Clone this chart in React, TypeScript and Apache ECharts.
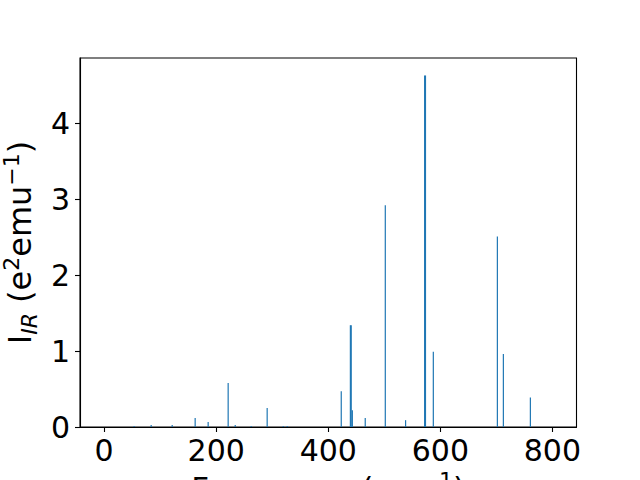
import React, { useEffect, useRef } from "react";
import * as echarts from "echarts";

const frequencies = [53.6, 84, 121.5, 162.5, 185.7, 221.4, 234, 262.5, 291, 319.7, 326.8, 423.2, 439.5, 441, 443, 466, 501.8, 538, 572, 573.5, 587.5, 701.8, 712.5, 760.7];
const intensities = [0.013, 0.026, 0.026, 0.118, 0.066, 0.58, 0.026, 0.013, 0.25, 0.013, 0.013, 0.47, 1.34, 1.34, 0.22, 0.12, 2.92, 0.09, 4.63, 4.63, 0.99, 2.51, 0.96, 0.39];
const xTicks = [0, 200, 400, 600, 800];
const yTicks = [0, 1, 2, 3, 4];

export default function App() {
  const ref = useRef<HTMLDivElement>(null);
  useEffect(() => {
    if (!ref.current) return;
    const chart = echarts.init(ref.current, null, { renderer: "svg" });
    const font = "DejaVu Sans";
    chart.setOption({
      animation: false,
      grid: { left: 80, right: 63.5, top: 58, bottom: 53, show: true, borderColor: "#000", borderWidth: 1.1, backgroundColor: "transparent", containLabel: false, outerBoundsMode: "none" },
      xAxis: {
        type: "value",
        min: -43,
        max: 843,
        splitLine: { show: false },
        axisLine: { show: true, onZero: false, lineStyle: { color: "#000", width: 1.1 } },
        axisTick: { show: true, customValues: xTicks, length: 5, lineStyle: { color: "#000", width: 1.1 } },
        axisLabel: { customValues: xTicks, color: "#000", fontFamily: font, fontSize: 30, margin: 8 },
        name: "{m|Frequency (cm}{sup|−1}{m|)}",
        nameLocation: "middle",
        nameGap: 39,
        nameTextStyle: {
          rich: {
            m: { fontFamily: font, fontSize: 31, color: "#000", lineHeight: 36, verticalAlign: "middle" },
            sup: { fontFamily: font, fontSize: 22, color: "#000", verticalAlign: "top", lineHeight: 22 },
          },
        },
      },
      yAxis: {
        type: "value",
        min: 0,
        max: 4.86,
        splitLine: { show: false },
        axisLine: { show: true, onZero: false, lineStyle: { color: "#000", width: 1.1 } },
        axisTick: { show: true, customValues: yTicks, length: 5, lineStyle: { color: "#000", width: 1.1 } },
        axisLabel: { customValues: yTicks, color: "#000", fontFamily: font, fontSize: 30, margin: 10 },
        name: "{m|I}{sub|IR}{m| (e}{sup|2}{m|emu}{sup|−1}{m|)}",
        nameLocation: "middle",
        nameRotate: 90,
        nameGap: 39,
        nameTextStyle: {
          rich: {
            m: { fontFamily: font, fontSize: 32, color: "#000", lineHeight: 40, verticalAlign: "middle" },
            sup: { fontFamily: font, fontSize: 22, color: "#000", verticalAlign: "top", lineHeight: 22 },
            sub: { fontFamily: font, fontSize: 22, fontStyle: "italic", color: "#000", verticalAlign: "bottom", lineHeight: 22 },
          },
        },
      },
      series: [
        {
          type: "bar",
          barWidth: 1.2,
          itemStyle: { color: "#1f77b4" },
          data: frequencies.map((f, i) => [f, intensities[i]]),
        },
      ],
    });
    return () => chart.dispose();
  }, []);
  return <div ref={ref} style={{ width: 640, height: 480, position: "absolute", left: 0, top: 0 }} />;
}
